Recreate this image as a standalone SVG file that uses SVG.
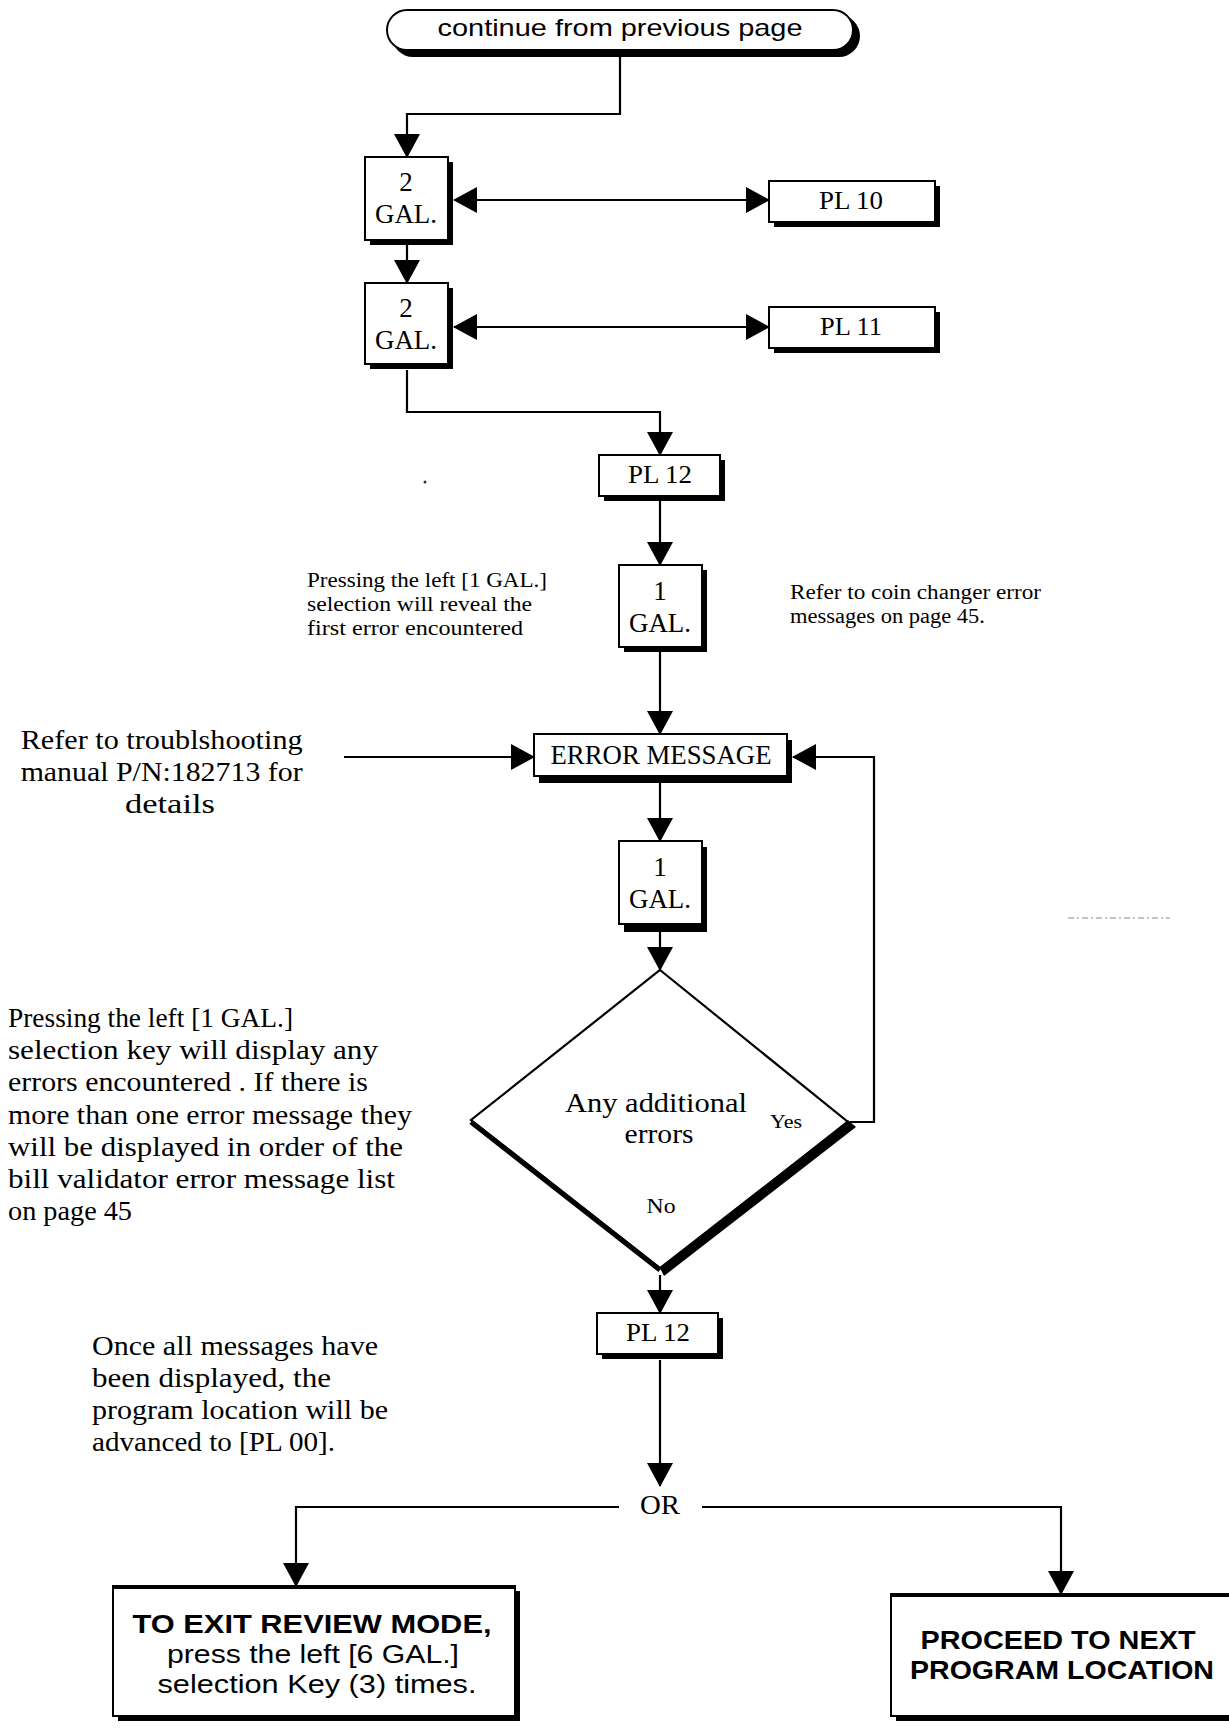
<svg xmlns="http://www.w3.org/2000/svg" width="1229" height="1730" viewBox="0 0 1229 1730">
<defs>
<style>
.box{fill:#fff;stroke:#000;stroke-width:2}
.sh{fill:#000}
.ln{fill:none;stroke:#000;stroke-width:2.2}
.serif{font-family:"Liberation Serif","DejaVu Serif",serif;fill:#000}
.sans{font-family:"Liberation Sans",Arial,sans-serif;fill:#000}
.bold{font-family:"Liberation Sans",Arial,sans-serif;font-weight:bold;fill:#000}
</style>
<marker id="ah" markerUnits="userSpaceOnUse" markerWidth="24" markerHeight="26" refX="23" refY="13" orient="auto-start-reverse">
<path d="M0,0 L24,13 L0,26 z" fill="#000"/>
</marker>
</defs>
<rect width="1229" height="1730" fill="#fff"/>

<g id="connectors">
<path class="ln" d="M620,57 V114 H407 V157" marker-end="url(#ah)"/>
<path class="ln" d="M407,245 V283" marker-end="url(#ah)"/>
<path class="ln" d="M454,200 H769" marker-start="url(#ah)" marker-end="url(#ah)"/>
<path class="ln" d="M454,327 H769" marker-start="url(#ah)" marker-end="url(#ah)"/>
<path class="ln" d="M407,370 V412 H660 V455" marker-end="url(#ah)"/>
<path class="ln" d="M660,500 V565" marker-end="url(#ah)"/>
<path class="ln" d="M660,652 V734" marker-end="url(#ah)"/>
<path class="ln" d="M344,757 H534" marker-end="url(#ah)"/>
<path class="ln" d="M660,783 V841" marker-end="url(#ah)"/>
<path class="ln" d="M660,932 V970" marker-end="url(#ah)"/>
<path class="ln" d="M850,1122 H874 V757 H793" marker-end="url(#ah)"/>
<path class="ln" d="M660,1275 V1313" marker-end="url(#ah)"/>
<path class="ln" d="M660,1360 V1486" marker-end="url(#ah)"/>
<path class="ln" d="M619,1507 H296 V1586" marker-end="url(#ah)"/>
<path class="ln" d="M702,1507 H1061 V1594" marker-end="url(#ah)"/>
</g>

<g id="start">
<rect class="sh" x="392" y="15" width="468" height="42" rx="21"/>
<rect class="box" x="387" y="10" width="466" height="40" rx="20"/>
<text class="sans" x="620" y="36" font-size="24" text-anchor="middle" textLength="365" lengthAdjust="spacingAndGlyphs">continue from previous page</text>
</g>

<g id="gal2a">
<rect class="sh" x="370" y="162" width="83" height="83"/>
<rect class="box" x="365" y="157" width="83" height="83"/>
<text class="serif" x="406" y="191" font-size="27" text-anchor="middle">2</text>
<text class="serif" x="406" y="223" font-size="27" text-anchor="middle" textLength="62" lengthAdjust="spacingAndGlyphs">GAL.</text>
</g>

<g id="gal2b">
<rect class="sh" x="370" y="288" width="83" height="81"/>
<rect class="box" x="365" y="283" width="83" height="81"/>
<text class="serif" x="406" y="317" font-size="27" text-anchor="middle">2</text>
<text class="serif" x="406" y="349" font-size="27" text-anchor="middle" textLength="62" lengthAdjust="spacingAndGlyphs">GAL.</text>
</g>

<g id="pl10">
<rect class="sh" x="774" y="186" width="166" height="41"/>
<rect class="box" x="769" y="181" width="166" height="41"/>
<text class="serif" x="851" y="209" font-size="26" text-anchor="middle" textLength="64" lengthAdjust="spacingAndGlyphs">PL 10</text>
</g>

<g id="pl11">
<rect class="sh" x="774" y="312" width="166" height="41"/>
<rect class="box" x="769" y="307" width="166" height="41"/>
<text class="serif" x="851" y="335" font-size="26" text-anchor="middle" textLength="62" lengthAdjust="spacingAndGlyphs">PL 11</text>
</g>

<g id="pl12a">
<rect class="sh" x="604" y="460" width="121" height="41"/>
<rect class="box" x="599" y="455" width="121" height="41"/>
<text class="serif" x="660" y="483" font-size="26" text-anchor="middle" textLength="64" lengthAdjust="spacingAndGlyphs">PL 12</text>
</g>

<g id="note1">
<text class="serif" font-size="20.5">
<tspan x="307" y="587" textLength="240" lengthAdjust="spacingAndGlyphs">Pressing the left [1 GAL.]</tspan>
<tspan x="307" y="611" textLength="225" lengthAdjust="spacingAndGlyphs">selection will reveal the</tspan>
<tspan x="307" y="635" textLength="216" lengthAdjust="spacingAndGlyphs">first error encountered</tspan>
</text>
</g>

<g id="note2">
<text class="serif" font-size="20.5">
<tspan x="790" y="599" textLength="251" lengthAdjust="spacingAndGlyphs">Refer to coin changer error</tspan>
<tspan x="790" y="623" textLength="195" lengthAdjust="spacingAndGlyphs">messages on page 45.</tspan>
</text>
</g>

<g id="gal1a">
<rect class="sh" x="624" y="570" width="83" height="82"/>
<rect class="box" x="619" y="565" width="83" height="82"/>
<text class="serif" x="660" y="600" font-size="27" text-anchor="middle">1</text>
<text class="serif" x="660" y="632" font-size="27" text-anchor="middle" textLength="62" lengthAdjust="spacingAndGlyphs">GAL.</text>
</g>

<g id="errmsg">
<rect class="sh" x="539" y="740" width="253" height="43"/>
<rect class="box" x="534" y="734" width="253" height="42"/>
<text class="serif" x="661" y="764" font-size="27" text-anchor="middle" textLength="221" lengthAdjust="spacingAndGlyphs">ERROR MESSAGE</text>
</g>

<g id="note3">
<text class="serif" font-size="27" text-anchor="middle">
<tspan x="165" y="749" textLength="282" lengthAdjust="spacingAndGlyphs">Refer to troublshooting</tspan>
<tspan x="165" y="781" textLength="282" lengthAdjust="spacingAndGlyphs">manual P/N:182713 for</tspan>
<tspan x="170" y="813" textLength="90" lengthAdjust="spacingAndGlyphs">details</tspan>
</text>
</g>

<g id="gal1b">
<rect class="sh" x="624" y="847" width="83" height="85"/>
<rect class="box" x="619" y="841" width="83" height="83"/>
<text class="serif" x="660" y="876" font-size="27" text-anchor="middle">1</text>
<text class="serif" x="660" y="908" font-size="27" text-anchor="middle" textLength="62" lengthAdjust="spacingAndGlyphs">GAL.</text>
</g>

<g id="decision">
<polygon points="660,970 848,1122 660,1268 471,1120" fill="#fff" stroke="#000" stroke-width="2.2"/>
<polyline points="471,1122 660,1270" fill="none" stroke="#000" stroke-width="5"/>
<polygon points="848,1120 856,1127 664,1276 660,1268" fill="#000"/>
<text class="serif" x="656" y="1112" font-size="27" text-anchor="middle" textLength="182" lengthAdjust="spacingAndGlyphs">Any additional</text>
<text class="serif" x="659" y="1143" font-size="27" text-anchor="middle" textLength="69" lengthAdjust="spacingAndGlyphs">errors</text>
<text class="serif" x="786" y="1128" font-size="18" text-anchor="middle" textLength="32" lengthAdjust="spacingAndGlyphs">Yes</text>
<text class="serif" x="661" y="1213" font-size="20" text-anchor="middle" textLength="29" lengthAdjust="spacingAndGlyphs">No</text>
</g>

<g id="note4">
<text class="serif" font-size="27">
<tspan x="8" y="1027" textLength="285" lengthAdjust="spacingAndGlyphs">Pressing the left [1 GAL.]</tspan>
<tspan x="8" y="1059" textLength="370" lengthAdjust="spacingAndGlyphs">selection key will display any</tspan>
<tspan x="8" y="1091" textLength="360" lengthAdjust="spacingAndGlyphs">errors encountered . If there is</tspan>
<tspan x="8" y="1124" textLength="404" lengthAdjust="spacingAndGlyphs">more than one error message they</tspan>
<tspan x="8" y="1156" textLength="395" lengthAdjust="spacingAndGlyphs">will be displayed in order of the</tspan>
<tspan x="8" y="1188" textLength="387" lengthAdjust="spacingAndGlyphs">bill validator error message list</tspan>
<tspan x="8" y="1220" textLength="124" lengthAdjust="spacingAndGlyphs">on page 45</tspan>
</text>
</g>

<g id="pl12b">
<rect class="sh" x="602" y="1318" width="121" height="41"/>
<rect class="box" x="597" y="1313" width="121" height="41"/>
<text class="serif" x="658" y="1341" font-size="26" text-anchor="middle" textLength="64" lengthAdjust="spacingAndGlyphs">PL 12</text>
</g>

<g id="note5">
<text class="serif" font-size="27">
<tspan x="92" y="1355" textLength="286" lengthAdjust="spacingAndGlyphs">Once all messages have</tspan>
<tspan x="92" y="1387" textLength="239" lengthAdjust="spacingAndGlyphs">been displayed, the</tspan>
<tspan x="92" y="1419" textLength="296" lengthAdjust="spacingAndGlyphs">program location will be</tspan>
<tspan x="92" y="1451" textLength="243" lengthAdjust="spacingAndGlyphs">advanced to [PL 00].</tspan>
</text>
</g>

<g id="or">
<text class="serif" x="660" y="1514" font-size="27" text-anchor="middle" textLength="40" lengthAdjust="spacingAndGlyphs">OR</text>
</g>

<g id="exit">
<rect class="sh" x="118" y="1591" width="402" height="130"/>
<rect class="box" x="113" y="1586" width="402" height="130"/>
<line x1="113" y1="1587" x2="515" y2="1587" stroke="#000" stroke-width="4"/>
<text class="bold" x="312" y="1633" font-size="26" text-anchor="middle" textLength="359" lengthAdjust="spacingAndGlyphs">TO EXIT REVIEW MODE,</text>
<text class="sans" x="313" y="1663" font-size="26" text-anchor="middle" textLength="292" lengthAdjust="spacingAndGlyphs">press the left [6 GAL.]</text>
<text class="sans" x="317" y="1693" font-size="26" text-anchor="middle" textLength="319" lengthAdjust="spacingAndGlyphs">selection Key (3) times.</text>
</g>

<g id="proceed">
<rect class="sh" x="896" y="1599" width="345" height="122"/>
<rect class="box" x="891" y="1594" width="345" height="122"/>
<line x1="891" y1="1595" x2="1229" y2="1595" stroke="#000" stroke-width="4"/>
<text class="bold" x="1058" y="1649" font-size="26" text-anchor="middle" textLength="275" lengthAdjust="spacingAndGlyphs">PROCEED TO NEXT</text>
<text class="bold" x="1062" y="1679" font-size="26" text-anchor="middle" textLength="304" lengthAdjust="spacingAndGlyphs">PROGRAM LOCATION</text>
</g>

<g id="marks">
<line x1="1068" y1="918" x2="1170" y2="918" stroke="#888" stroke-width="1.2" stroke-dasharray="6,3,2,3"/>
<circle cx="425" cy="482" r="1.5" fill="#333"/>
</g>
</svg>
